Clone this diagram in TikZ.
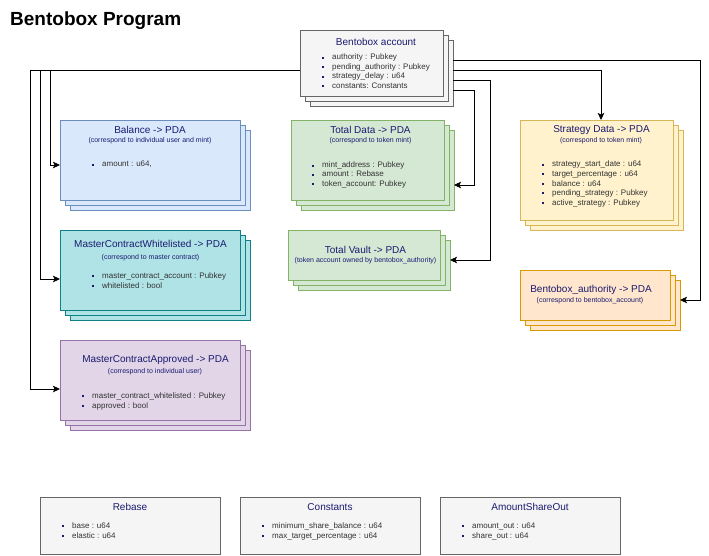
\documentclass[tikz,border=0pt]{standalone}
\usepackage{fontspec}
\setmainfont{Liberation Sans}
\usetikzlibrary{arrows.meta,calc}
\definecolor{ttl}{HTML}{1A1A70}
\definecolor{btx}{HTML}{333333}
\definecolor{grF}{HTML}{F5F5F5}\definecolor{grD}{HTML}{666666}
\definecolor{blF}{HTML}{DAE8FC}\definecolor{blD}{HTML}{6C8EBF}
\definecolor{tlF}{HTML}{B0E3E6}\definecolor{tlD}{HTML}{0E8088}
\definecolor{puF}{HTML}{E1D5E7}\definecolor{puD}{HTML}{9673A6}
\definecolor{gnF}{HTML}{D5E8D4}\definecolor{gnD}{HTML}{82B366}
\definecolor{ylF}{HTML}{FFF2CC}\definecolor{ylD}{HTML}{D6B656}
\definecolor{orF}{HTML}{FFE6CC}\definecolor{orD}{HTML}{D79B00}
\tikzset{
  boxline/.style={line width=0.8pt},
  ttlf/.style={text=ttl, font=\fontsize{10}{12}\selectfont, inner sep=0pt},
  subf/.style={text=ttl, font=\fontsize{7}{8}\selectfont, inner sep=0pt},
  bul/.style={text=btx, font=\fontsize{8}{9}\selectfont, inner sep=0pt, anchor=west, text height=5.7pt, text depth=1.7pt},
  arr/.style={line width=0.8pt, -{Stealth[length=7pt,width=6.5pt,inset=1.5pt]}},
}
\newcommand\flatbox[7]{%
  \pgfmathsetmacro\bxw{#6-#4}\pgfmathsetmacro\bxh{#7-#5}%
  \node[boxline, draw=#3, fill=#2, inner sep=0pt, outer sep=0pt, anchor=north west,
        minimum width=\bxw pt, minimum height=\bxh pt] (#1) at (#4,#5) {};}
\newcommand\stackbox[7]{%
  \path[boxline, draw=#3, fill=#2] (#4+10,#5+10) rectangle (#6+10,#7+10);
  \path[boxline, draw=#3, fill=#2] (#4+5,#5+5) rectangle (#6+5,#7+5);
  \flatbox{#1}{#2}{#3}{#4}{#5}{#6}{#7}}
\newcommand\bitem[3]{\node[bul] (#1) at (#2) {\textcolor{ttl}{\rule[1.3pt]{2pt}{2pt}}\hspace{8pt}#3};}
\begin{document}
\begin{tikzpicture}[x=1pt,y=-1pt]
\useasboundingbox[fill=white] (0,0) rectangle (709,556);

\node[anchor=base west, inner sep=0pt, font=\bfseries\fontsize{19}{22}\selectfont] (title) at (10,26) {Bentobox Program};

% boxes
\stackbox{acc}{grF}{grD}{300}{30}{443}{96}
\stackbox{bal}{blF}{blD}{60}{120}{240}{200}
\stackbox{wl}{tlF}{tlD}{60}{230}{240}{310}
\stackbox{appr}{puF}{puD}{60}{340}{240}{420}
\stackbox{td}{gnF}{gnD}{291}{120}{444}{200}
\stackbox{vault}{gnF}{gnD}{288}{230}{440}{280}
\stackbox{strat}{ylF}{ylD}{520}{120}{673}{220}
\stackbox{auth}{orF}{orD}{520}{270}{670}{320}
\flatbox{reb}{grF}{grD}{40}{497}{220}{554}
\flatbox{cons}{grF}{grD}{240}{497}{420}{554}
\flatbox{aso}{grF}{grD}{440}{497}{620}{554}

% Bentobox account
\node[ttlf] (accT) at (376,42) {Bentobox account};
\bitem{acc1}{322,58}{authority : Pubkey}
\bitem{acc2}{322,67.5}{pending\_authority : Pubkey}
\bitem{acc3}{322,77}{strategy\_delay : u64}
\bitem{acc4}{322,86.5}{constants: Constants}

% Balance
\node[ttlf] (balT) at (150,130) {Balance -> PDA};
\node[subf] (balS) at (150,141) {(correspond to individual user and mint)};
\bitem{bal1}{92,165}{amount : u64,}

% Whitelisted
\node[ttlf] (wlT) at (150.5,244) {MasterContractWhitelisted -> PDA};
\node[subf] (wlS) at (150.5,257.5) {(correspond to master contract)};
\bitem{wl1}{92,276}{master\_contract\_account : Pubkey}
\bitem{wl2}{92,286}{whitelisted : bool}

% Approved
\node[ttlf] (apT) at (155.5,360) {MasterContractApproved -> PDA};
\node[subf] (apS) at (155,371.5) {(correspond to individual user)};
\bitem{ap1}{82,396}{master\_contract\_whitelisted : Pubkey}
\bitem{ap2}{82,406}{approved : bool}

% Total Data
\node[ttlf] (tdT) at (370.5,130) {Total Data -> PDA};
\node[subf] (tdS) at (370.5,141) {(correspond to token mint)};
\bitem{td1}{312,166}{mint\_address : Pubkey}
\bitem{td2}{312,175}{amount : Rebase}
\bitem{td3}{312,184.5}{token\_account: Pubkey}

% Total Vault
\node[ttlf] (tvT) at (365.5,250) {Total Vault -> PDA};
\node[subf] (tvS) at (365.5,261) {(token account owned by bentobox\_authority)};

% Strategy
\node[ttlf] (stT) at (601.5,130) {Strategy Data -> PDA};
\node[subf] (stS) at (601,141) {(correspond to token mint)};
\bitem{st1}{542,165}{strategy\_start\_date : u64}
\bitem{st2}{542,174.3}{target\_percentage : u64}
\bitem{st3}{542,184}{balance : u64}
\bitem{st4}{542,193.3}{pending\_strategy : Pubkey}
\bitem{st5}{542,203}{active\_strategy : Pubkey}

% Authority
\node[ttlf] (auT) at (591,290) {Bentobox\_authority -> PDA};
\node[subf] (auS) at (590,300.5) {(correspond to bentobox\_account)};

% Bottom
\node[ttlf] (rebT) at (130,507) {Rebase};
\bitem{reb1}{62,526}{base : u64}
\bitem{reb2}{62,536}{elastic : u64}
\node[ttlf] (consT) at (330,507) {Constants};
\bitem{cons1}{262,526}{minimum\_share\_balance : u64}
\bitem{cons2}{262,536}{max\_target\_percentage : u64}
\node[ttlf] (asoT) at (530,507) {AmountShareOut};
\bitem{aso1}{462,526}{amount\_out : u64}
\bitem{aso2}{462,536}{share\_out : u64}

% ports
\path (acc.north west) ++(0,40) coordinate (pL);
\path (acc.north east) ++(10,30) coordinate (pR1) ++(0,10) coordinate (pR2)
      ++(0,10) coordinate (pR3) ++(0,10) coordinate (pR4);

% connectors
\draw[arr] (pL) -- ++(-270,0) |- ([yshift=-9pt]appr.west);
\draw[arr] (pL) -- ++(-260,0) |- ([yshift=-9pt]wl.west);
\draw[arr] (pL) -- ++(-250,0) |- ([yshift=-5pt]bal.west);
\draw[arr] (pR1) -- ++(247,0) |- ([xshift=10pt,yshift=-5pt]auth.east);
\draw[arr] (pR2) -| ([xshift=4.5pt]strat.north);
\draw[arr] (pR3) -- ++(37,0) |- ([xshift=10pt,yshift=-5pt]vault.east);
\draw[arr] (pR4) -- ++(21,0) |- ([xshift=10pt,yshift=-25pt]td.east);
\end{tikzpicture}
\end{document}
